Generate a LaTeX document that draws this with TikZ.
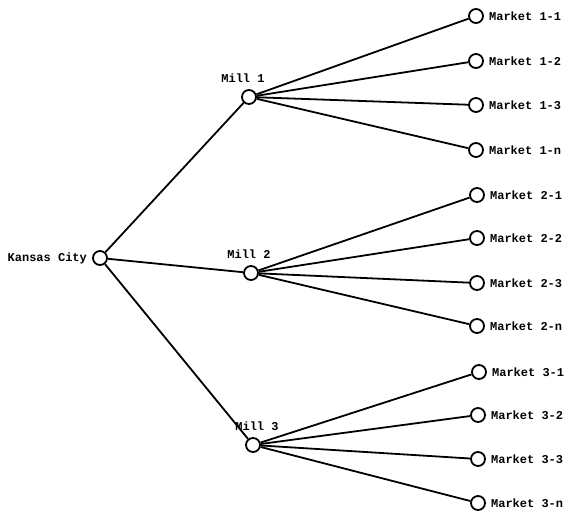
\documentclass[tikz,border=0pt]{standalone}
\usepackage{fontspec}
\setmonofont{Liberation Mono}
\usepackage{tikz}
\usetikzlibrary{positioning}

\begin{document}
\begin{tikzpicture}[x=1pt, y=-1pt, node distance=4pt]
  \tikzstyle{site} = [circle, draw=black, line width=1.8pt, minimum size=14pt, inner sep=0pt]
  \tikzstyle{tag} = [font=\ttfamily\bfseries\fontsize{12}{14}\selectfont, inner sep=1pt]
  \tikzstyle{link} = [draw=black, line width=1.8pt]

  \useasboundingbox (0,0) rectangle (574,512);

  % origin and mills
  \node [site] (kc) at (100,258) {};
  \node [site] (mill1) at (249,97) {};
  \node [site] (mill2) at (251,273) {};
  \node [site] (mill3) at (253,445) {};
  \node [tag, left=of kc] {Kansas City};
  \node [tag, above=5pt of mill1, xshift=-6pt] {Mill 1};
  \node [tag, above=5pt of mill2, xshift=-2pt] {Mill 2};
  \node [tag, above=5pt of mill3, xshift=4pt] {Mill 3};

  % markets
  \node [site] (m11) at (476,16) {};
  \node [site] (m12) at (476,61) {};
  \node [site] (m13) at (476,105) {};
  \node [site] (m1n) at (476,150) {};
  \node [site] (m21) at (477,195) {};
  \node [site] (m22) at (477,238) {};
  \node [site] (m23) at (477,283) {};
  \node [site] (m2n) at (477,326) {};
  \node [site] (m31) at (479,372) {};
  \node [site] (m32) at (478,415) {};
  \node [site] (m33) at (478,459) {};
  \node [site] (m3n) at (478,503) {};
  \foreach \m/\t in {m11/1-1, m12/1-2, m13/1-3, m1n/1-n, m21/2-1, m22/2-2, m23/2-3, m2n/2-n, m31/3-1, m32/3-2, m33/3-3, m3n/3-n}
    \node [tag, right=of \m] {Market \t};

  \path [link] (kc) -- (mill1);
  \path [link] (kc) -- (mill2);
  \path [link] (kc) -- (mill3);
  \foreach \i in {1,2,3}
    \foreach \j in {1,2,3,n}
      \path [link] (mill\i) -- (m\i\j);
\end{tikzpicture}
\end{document}
